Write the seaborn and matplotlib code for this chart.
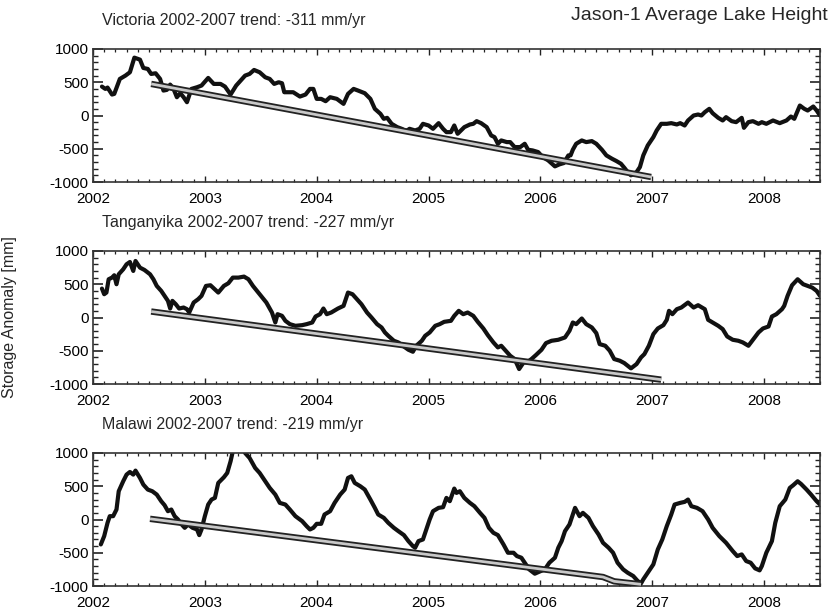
import numpy as np
import pandas as pd
import matplotlib
matplotlib.use("Agg")
import matplotlib.pyplot as plt
import seaborn as sns
from matplotlib.ticker import MultipleLocator, FixedLocator, FuncFormatter

# ---------------- data ----------------
lakes = ["Victoria", "Tanganyika", "Malawi"]
trend_rates = [-311, -227, -219]
year_ticks = [2002, 2003, 2004, 2005, 2006, 2007, 2008]
height_ticks = [-1000, -500, 0, 500, 1000]

victoria_t = [2002.08, 2002.11, 2002.13, 2002.17, 2002.19, 2002.24, 2002.29, 2002.33, 2002.37, 2002.42,
              2002.45, 2002.49, 2002.52, 2002.56, 2002.60, 2002.63, 2002.66, 2002.69, 2002.72, 2002.75,
              2002.78, 2002.81, 2002.84, 2002.88, 2002.93, 2002.97, 2003.03, 2003.08, 2003.14, 2003.18,
              2003.23, 2003.28, 2003.36, 2003.40, 2003.44, 2003.49, 2003.54, 2003.58, 2003.62, 2003.66,
              2003.69, 2003.71, 2003.75, 2003.79, 2003.85, 2003.90, 2003.94, 2003.97, 2004.00, 2004.04,
              2004.08, 2004.12, 2004.18, 2004.24, 2004.28, 2004.33, 2004.37, 2004.43, 2004.48, 2004.52,
              2004.57, 2004.60, 2004.63, 2004.67, 2004.72, 2004.76, 2004.80, 2004.83, 2004.88, 2004.92,
              2004.95, 2005.00, 2005.04, 2005.09, 2005.13, 2005.16, 2005.20, 2005.23, 2005.26, 2005.32,
              2005.37, 2005.40, 2005.43, 2005.47, 2005.52, 2005.56, 2005.59, 2005.62, 2005.65, 2005.70,
              2005.73, 2005.77, 2005.82, 2005.86, 2005.89, 2005.93, 2005.98, 2006.02, 2006.07, 2006.13,
              2006.17, 2006.21, 2006.25, 2006.27, 2006.29, 2006.32, 2006.37, 2006.41, 2006.46, 2006.50,
              2006.55, 2006.59, 2006.64, 2006.68, 2006.72, 2006.75, 2006.78, 2006.81, 2006.86, 2006.89,
              2006.92, 2006.96, 2007.01, 2007.04, 2007.08, 2007.13, 2007.17, 2007.22, 2007.25, 2007.29,
              2007.32, 2007.37, 2007.41, 2007.44, 2007.47, 2007.51, 2007.54, 2007.59, 2007.63, 2007.66,
              2007.71, 2007.75, 2007.80, 2007.82, 2007.86, 2007.90, 2007.95, 2007.98, 2008.02, 2008.08,
              2008.14, 2008.20, 2008.24, 2008.27, 2008.32, 2008.36, 2008.39, 2008.44, 2008.47, 2008.50]
victoria_h = [435, 400, 420, 315, 325, 550, 600, 650, 870, 840,
              715, 700, 625, 635, 550, 375, 385, 465, 400, 275,
              335, 275, 200, 400, 425, 450, 565, 475, 475, 435,
              315, 450, 600, 625, 685, 650, 575, 550, 475, 500,
              485, 350, 350, 350, 285, 315, 400, 400, 250, 250,
              215, 275, 250, 175, 325, 400, 375, 335, 250, 100,
              25, -50, -35, -125, -175, -200, -235, -200, -225, -200,
              -125, -150, -200, -115, -200, -250, -250, -150, -275, -175,
              -135, -125, -85, -115, -175, -300, -325, -425, -375, -400,
              -400, -475, -475, -425, -515, -525, -550, -625, -675, -765,
              -735, -715, -600, -600, -515, -425, -375, -400, -385, -425,
              -515, -600, -650, -685, -725, -785, -850, -900, -850, -775,
              -600, -450, -325, -225, -125, -125, -115, -135, -115, -150,
              -75, 0, 15, 0, 50, 100, 35, -35, -75, -25,
              -85, -100, -35, -185, -100, -85, -125, -100, -125, -75,
              -115, -75, -15, -50, 150, 100, 75, 135, 75, 0]

tanganyika_t = [2002.08, 2002.10, 2002.12, 2002.14, 2002.17, 2002.19, 2002.21, 2002.23, 2002.27, 2002.30,
                2002.33, 2002.36, 2002.38, 2002.42, 2002.46, 2002.51, 2002.54, 2002.57, 2002.61, 2002.64,
                2002.67, 2002.69, 2002.71, 2002.74, 2002.77, 2002.81, 2002.84, 2002.86, 2002.90, 2002.94,
                2002.97, 2003.01, 2003.05, 2003.12, 2003.17, 2003.21, 2003.25, 2003.30, 2003.35, 2003.39,
                2003.43, 2003.49, 2003.55, 2003.60, 2003.63, 2003.65, 2003.69, 2003.72, 2003.76, 2003.81,
                2003.87, 2003.91, 2003.96, 2003.99, 2004.03, 2004.06, 2004.09, 2004.13, 2004.19, 2004.24,
                2004.28, 2004.32, 2004.36, 2004.40, 2004.45, 2004.49, 2004.54, 2004.58, 2004.61, 2004.64,
                2004.69, 2004.73, 2004.77, 2004.82, 2004.86, 2004.89, 2004.94, 2004.97, 2005.01, 2005.06,
                2005.10, 2005.14, 2005.20, 2005.23, 2005.27, 2005.31, 2005.35, 2005.40, 2005.44, 2005.49,
                2005.53, 2005.58, 2005.62, 2005.65, 2005.69, 2005.73, 2005.77, 2005.81, 2005.85, 2005.88,
                2005.92, 2005.96, 2006.01, 2006.05, 2006.10, 2006.16, 2006.22, 2006.26, 2006.29, 2006.32,
                2006.37, 2006.41, 2006.46, 2006.50, 2006.53, 2006.58, 2006.62, 2006.66, 2006.71, 2006.75,
                2006.81, 2006.86, 2006.90, 2006.93, 2006.97, 2007.01, 2007.05, 2007.10, 2007.13, 2007.15,
                2007.18, 2007.22, 2007.26, 2007.32, 2007.37, 2007.41, 2007.47, 2007.50, 2007.54, 2007.59,
                2007.63, 2007.67, 2007.72, 2007.77, 2007.81, 2007.86, 2007.90, 2007.95, 2007.99, 2008.04,
                2008.07, 2008.11, 2008.16, 2008.18, 2008.21, 2008.25, 2008.30, 2008.35, 2008.39, 2008.43,
                2008.47, 2008.50]
tanganyika_h = [435, 350, 375, 575, 600, 635, 500, 650, 725, 800,
                835, 700, 850, 750, 715, 650, 575, 475, 400, 325,
                250, 135, 250, 200, 135, 150, 125, 75, 225, 275,
                325, 475, 485, 375, 475, 515, 600, 600, 615, 575,
                475, 350, 225, 75, -75, 50, 25, -50, -100, -125,
                -115, -100, -75, 15, 50, 135, 50, 75, 135, 175,
                375, 350, 275, 200, 75, 0, -100, -150, -225, -275,
                -350, -375, -425, -485, -515, -425, -350, -275, -225, -125,
                -100, -65, -50, 25, 100, 50, 75, 25, -65, -165,
                -265, -375, -450, -425, -500, -575, -625, -775, -675, -675,
                -625, -565, -485, -385, -350, -335, -300, -200, -75, -100,
                -15, -100, -150, -235, -400, -425, -500, -625, -650, -685,
                -765, -700, -600, -550, -425, -250, -165, -115, -35, 100,
                50, 125, 150, 225, 150, 185, 125, -35, -75, -125,
                -175, -285, -335, -350, -375, -425, -335, -225, -165, -135,
                15, 50, 125, 175, 325, 485, 575, 500, 475, 450,
                400, 325]

malawi_t = [2002.07, 2002.10, 2002.13, 2002.15, 2002.18, 2002.21, 2002.23, 2002.27, 2002.30, 2002.33,
            2002.36, 2002.38, 2002.42, 2002.45, 2002.49, 2002.53, 2002.57, 2002.61, 2002.64, 2002.67,
            2002.70, 2002.73, 2002.76, 2002.78, 2002.82, 2002.85, 2002.89, 2002.93, 2002.95, 2002.97,
            2003.00, 2003.03, 2003.06, 2003.09, 2003.12, 2003.17, 2003.20, 2003.23, 2003.25, 2003.28,
            2003.33, 2003.36, 2003.40, 2003.45, 2003.49, 2003.54, 2003.58, 2003.63, 2003.67, 2003.72,
            2003.76, 2003.81, 2003.87, 2003.91, 2003.94, 2003.97, 2004.00, 2004.04, 2004.07, 2004.12,
            2004.16, 2004.21, 2004.25, 2004.28, 2004.31, 2004.34, 2004.39, 2004.43, 2004.48, 2004.52,
            2004.55, 2004.60, 2004.64, 2004.69, 2004.73, 2004.78, 2004.82, 2004.86, 2004.88, 2004.91,
            2004.95, 2004.98, 2005.01, 2005.04, 2005.09, 2005.13, 2005.16, 2005.19, 2005.23, 2005.25,
            2005.28, 2005.32, 2005.37, 2005.41, 2005.46, 2005.50, 2005.54, 2005.58, 2005.62, 2005.67,
            2005.71, 2005.76, 2005.79, 2005.83, 2005.86, 2005.88, 2005.90, 2005.95, 2005.99, 2006.04,
            2006.08, 2006.13, 2006.16, 2006.19, 2006.22, 2006.26, 2006.31, 2006.35, 2006.38, 2006.43,
            2006.47, 2006.52, 2006.56, 2006.61, 2006.65, 2006.69, 2006.74, 2006.78, 2006.83, 2006.87,
            2006.90, 2006.92, 2006.96, 2007.01, 2007.05, 2007.09, 2007.13, 2007.17, 2007.20, 2007.25,
            2007.29, 2007.32, 2007.35, 2007.40, 2007.45, 2007.50, 2007.54, 2007.60, 2007.66, 2007.72,
            2007.76, 2007.80, 2007.84, 2007.88, 2007.92, 2007.96, 2007.98, 2008.02, 2008.07, 2008.10,
            2008.14, 2008.19, 2008.23, 2008.26, 2008.30, 2008.33, 2008.38, 2008.42, 2008.47, 2008.50]
malawi_h = [-375, -250, -50, 50, 50, 150, 425, 575, 675, 715,
            675, 735, 625, 525, 450, 425, 375, 275, 215, 125,
            150, 50, 0, -50, -125, -75, -125, -150, -235, -150,
            50, 225, 300, 325, 550, 635, 700, 875, 1025, 1120,
            1120, 1000, 925, 775, 700, 575, 475, 375, 250, 225,
            150, 50, -25, -100, -150, -125, -65, -65, 75, 125,
            250, 375, 450, 625, 650, 550, 500, 450, 300, 175,
            75, 25, -50, -125, -175, -235, -325, -400, -425, -325,
            -300, -150, 0, 125, 175, 185, 325, 275, 465, 400,
            425, 325, 250, 200, 100, 25, -125, -200, -235, -375,
            -500, -500, -550, -575, -650, -700, -750, -815, -785, -750,
            -650, -575, -425, -325, -175, -75, 175, 50, 100, 25,
            -100, -225, -350, -425, -500, -650, -750, -800, -850, -925,
            -960, -900, -800, -675, -450, -300, -100, 75, 225, 250,
            265, 300, 200, 175, 125, 0, -125, -250, -350, -475,
            -550, -525, -625, -650, -735, -765, -700, -500, -325, -50,
            200, 300, 475, 515, 575, 535, 450, 375, 275, 225]

victoria_trend_t = [2002.52, 2006.99]
victoria_trend_h = [475, -925]
tanganyika_trend_t = [2002.52, 2007.08]
tanganyika_trend_h = [90, -935]
malawi_trend_t = [2002.51, 2006.56, 2006.66, 2006.90]
malawi_trend_h = [10, -865, -930, -975]

# ---------------- style ----------------
sns.set_theme(style="ticks")
plt.rcParams["font.family"] = ["Liberation Sans", "DejaVu Sans"]
plt.rcParams["axes.unicode_minus"] = False

fig = plt.figure(figsize=(8.29, 6.12), dpi=100)

left, right = 93 / 829, 820 / 829
panel_px = [(49, 182), (251, 384), (453, 586)]
series = [
    (victoria_t, victoria_h, victoria_trend_t, victoria_trend_h),
    (tanganyika_t, tanganyika_h, tanganyika_trend_t, tanganyika_trend_h),
    (malawi_t, malawi_h, malawi_trend_t, malawi_trend_h),
]

for name, rate, (t, h, tt, th), (ptop, pbot) in zip(lakes, trend_rates, series, panel_px):
    ax = fig.add_axes([left, 1 - pbot / 612, right - left, (pbot - ptop) / 612])
    df = pd.DataFrame({"year": t, "height": h})
    dft = pd.DataFrame({"year": tt, "height": th})
    sns.lineplot(data=df, x="year", y="height", ax=ax, color="#111111", lw=3.0,
                 estimator=None, sort=False, zorder=2)
    sns.lineplot(data=dft, x="year", y="height", ax=ax, color="#222222", lw=4.6,
                 estimator=None, sort=False, zorder=3, solid_capstyle="butt")
    sns.lineplot(data=dft, x="year", y="height", ax=ax, color="#c8c8c8", lw=2.0,
                 estimator=None, sort=False, zorder=4, solid_capstyle="butt")
    ax.set_xlim(2002, 2008.5)
    ax.set_ylim(-1000, 1000)
    ax.set_xlabel("")
    ax.set_ylabel("")
    ax.xaxis.set_major_locator(FixedLocator(year_ticks))
    ax.xaxis.set_major_formatter(FuncFormatter(lambda v, p: f"{int(round(v))}"))
    ax.xaxis.set_minor_locator(MultipleLocator(0.1))
    ax.yaxis.set_major_locator(FixedLocator(height_ticks))
    ax.yaxis.set_major_formatter(FuncFormatter(lambda v, p: f"{int(round(v))}"))
    ax.yaxis.set_minor_locator(MultipleLocator(100))
    ax.tick_params(axis="both", which="both", direction="in", top=True, right=True,
                   colors="#222222", labelcolor="black", labelsize=11)
    ax.tick_params(axis="y", which="major", length=7, width=1.2, pad=3)
    ax.tick_params(axis="y", which="minor", length=3.8, width=1.0)
    ax.tick_params(axis="x", which="major", length=4, width=1.0, pad=7)
    ax.tick_params(axis="x", which="minor", length=2, width=0.9)
    for s in ax.spines.values():
        s.set_color("#333333")
        s.set_linewidth(1.2)
    ax.grid(False)
    fig.text(102 / 829, 1 - (ptop - 29) / 612,
             f"{name} 2002-2007 trend: {rate} mm/yr",
             ha="left", va="center", fontsize=11.5)

fig.text(0.998, 1 - 15 / 612, "Jason-1 Average Lake Height",
         ha="right", va="center", fontsize=14)
fig.text(10 / 829, 1 - 317 / 612, "Storage Anomaly [mm]", rotation=90,
         ha="center", va="center", fontsize=11.5)

fig.savefig("out.png", dpi=100)
